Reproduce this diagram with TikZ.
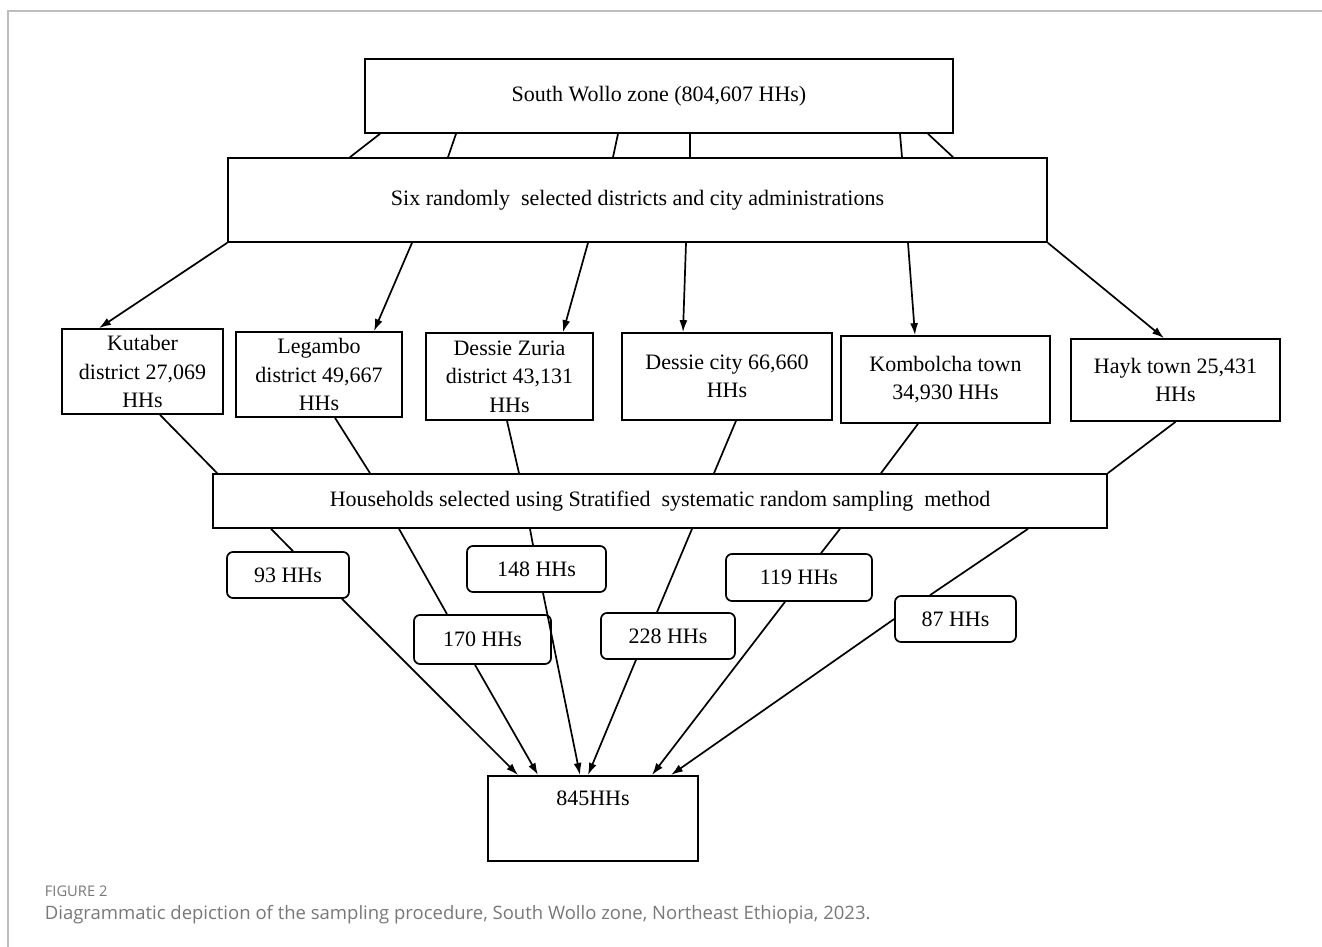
\documentclass[tikz,border=0pt]{standalone}
\usepackage{fontspec}
\setmainfont{Liberation Serif}
\newfontfamily\capfont{Open Sans}
\usetikzlibrary{arrows.meta}
\definecolor{framegray}{RGB}{190,190,190}
\definecolor{capgray}{RGB}{120,120,120}

\begin{document}
\begin{tikzpicture}[>={Latex[length=12pt,width=8pt]}, x=1pt, y=-1pt, line width=1.7pt,
    box/.style={draw, rectangle, inner sep=0pt, align=center,
      font=\fontsize{22}{28.5}\selectfont},
    hhbox/.style={box, rounded corners=6pt, minimum height=46pt}]
  \useasboundingbox (0,0) rectangle (1322,947);
  \draw[framegray, line width=2pt] (8,947) -- (8,11) -- (1322,11);

  % levels of the sampling
  \node[box, minimum width=588pt, minimum height=74pt] (zone) at (659,96) {South Wollo zone (804,607 HHs)};
  \node[box, minimum width=819pt, minimum height=84pt] (six) at (637.5,200) {Six randomly\ \ selected districts and city administrations};

  \node[box, minimum width=161pt, minimum height=85pt] (kutaber) at (142.5,371.5) {Kutaber\\district 27,069\\HHs};
  \node[box, minimum width=166pt, minimum height=85pt] (legambo) at (319,374.5) {Legambo\\district 49,667\\HHs};
  \node[box, minimum width=167pt, minimum height=87pt] (zuria) at (509.5,376.5) {Dessie Zuria\\district 43,131\\HHs};
  \node[box, minimum width=210pt, minimum height=87pt] (dessie) at (727,376.5) {Dessie city 66,660\\HHs};
  \node[box, minimum width=209pt, minimum height=87pt] (kombolcha) at (945.5,379.5) {Kombolcha town\\34,930 HHs};
  \node[box, minimum width=209pt, minimum height=82pt] (hayk) at (1175.5,380) {Hayk town 25,431\\HHs};

  \node[box, minimum width=894pt, minimum height=54pt] (stratified) at (660,501) {Households selected using Stratified\ \ systematic random sampling\ \ method};

  \node[hhbox, minimum width=122pt] (nkut) at (288,575) {93 HHs};
  \node[hhbox, minimum width=139pt] (nzur) at (536.5,569) {148 HHs};
  \node[hhbox, minimum width=137pt, minimum height=49pt] (nleg) at (482.5,639.5) {170 HHs};
  \node[hhbox, minimum width=134pt] (ndes) at (668,636) {228 HHs};
  \node[hhbox, minimum width=146pt, minimum height=47pt] (nkom) at (799,577.5) {119 HHs};
  \node[hhbox, minimum width=121pt] (nhay) at (955.5,619) {87 HHs};

  \node[box, minimum width=210pt, text height=29.3pt, text depth=55.7pt] (total) at (593,775) [anchor=north] {845HHs};

  % zone to districts
  \draw ([xshift=-279pt]zone.south) -- ([xshift=-287.5pt]six.north);
  \draw ([xshift=-203pt]zone.south) -- ([xshift=-189.5pt]six.north);
  \draw ([xshift=-41pt]zone.south) -- ([xshift=-24.5pt]six.north);
  \draw ([xshift=31pt]zone.south) -- ([xshift=52.5pt]six.north);
  \draw ([xshift=241pt]zone.south) -- ([xshift=264.5pt]six.north);
  \draw ([xshift=269pt]zone.south) -- ([xshift=315.5pt]six.north);

  \draw[->] (six.south west) -- ([xshift=-43.5pt]kutaber.north);
  \draw[->] ([xshift=-225.5pt]six.south) -- ([xshift=55pt]legambo.north);
  \draw[->] ([xshift=-49.5pt]six.south) -- ([xshift=53.5pt]zuria.north);
  \draw[->] ([xshift=48.5pt]six.south) -- ([xshift=-44pt]dessie.north);
  \draw[->] ([xshift=270.5pt]six.south) -- ([xshift=-30.5pt]kombolcha.north);
  \draw[->] (six.south east) -- ([xshift=-11.5pt]hayk.north);

  % districts to households
  \draw ([xshift=17.5pt]kutaber.south) -- ([xshift=5pt]stratified.north west);
  \draw ([xshift=16pt]legambo.south) -- ([xshift=-290pt]stratified.north);
  \draw ([xshift=-2.5pt]zuria.south) -- ([xshift=-141pt]stratified.north);
  \draw ([xshift=9pt]dessie.south) -- ([xshift=54pt]stratified.north);
  \draw ([xshift=-27.5pt]kombolcha.south) -- ([xshift=221pt]stratified.north);
  \draw (hayk.south) -- (stratified.north east);

  \draw ([xshift=-389pt]stratified.south) -- ([xshift=5pt]nkut.north);
  \draw ([xshift=-261pt]stratified.south) -- ([xshift=-35.5pt]nleg.north);
  \draw ([xshift=-130pt]stratified.south) -- ([xshift=-3.5pt]nzur.north);
  \draw ([xshift=32pt]stratified.south) -- ([xshift=-11pt]ndes.north);
  \draw ([xshift=180pt]stratified.south) -- ([xshift=22pt]nkom.north);
  \draw ([xshift=368pt]stratified.south) -- ([xshift=-25.5pt]nhay.north);

  % samples to total
  \draw[->] ([xshift=54pt]nkut.south) -- ([xshift=-75pt]total.north);
  \draw[->] ([xshift=-7.5pt]nleg.south) -- ([xshift=-55pt]total.north);
  \draw[->] ([xshift=6.5pt]nzur.south) -- ([xshift=-13pt]total.north);
  \draw[->] ([xshift=-32pt]ndes.south) -- ([xshift=-5pt]total.north);
  \draw[->] ([xshift=-14pt]nkom.south) -- ([xshift=59pt]total.north);
  \draw[->] (nhay.west) -- ([xshift=78pt]total.north);

  % caption
  \node[anchor=west, inner sep=0pt, text=capgray, font=\capfont\fontsize{14.7}{17}\selectfont] (figno) at (44,891) {FIGURE 2};
  \node[anchor=west, inner sep=0pt, text=capgray, font=\capfont\fontsize{18.5}{22}\selectfont] (caption) at (44,915) {Diagrammatic depiction of the sampling procedure, South Wollo zone, Northeast Ethiopia, 2023.};
\end{tikzpicture}
\end{document}
